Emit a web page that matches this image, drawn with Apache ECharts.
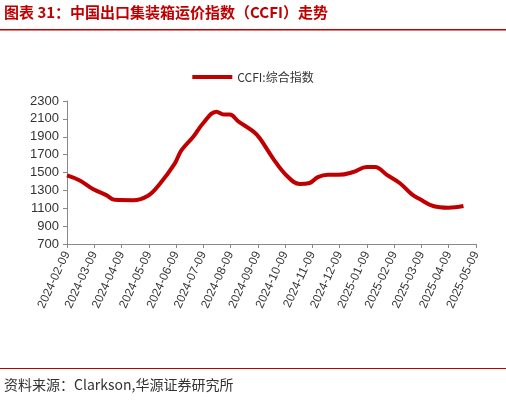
<!DOCTYPE html><html><head><meta charset="utf-8"><script src="https://cdn.jsdelivr.net/npm/echarts@6/dist/echarts.min.js"></script>
<style>body{margin:0}#c{width:506px;height:402px}</style></head><body><div id="c"></div><script>
const tickLabels=['2024-02-09','2024-03-09','2024-04-09','2024-05-09','2024-06-09','2024-07-09','2024-08-09','2024-09-09','2024-10-09','2024-11-09','2024-12-09','2025-01-09','2025-02-09','2025-03-09','2025-04-09','2025-05-09'];
const monthPos=[0,0.47,0.95,1.44,1.75,2.42,2.97,3.4,3.95,4.2,4.63,5.0,5.48,5.75,5.97,6.28,6.83,7.07,7.56,8.05,8.54,8.9,9.2,9.57,9.95,10.5,10.99,11.3,11.73,12.2,12.64,12.95,13.43,13.99,14.54];
const ccfi=[1467,1410,1315,1247,1194,1190,1240,1372,1600,1750,1900,2054,2180,2148,2148,2073,1960,1883,1656,1467,1372,1383,1448,1474,1474,1505,1561,1561,1474,1383,1258,1200,1125,1106,1125];
const c=echarts.init(document.getElementById('c'));
const F='"Noto Sans CJK SC",sans-serif';
c.setOption({
 graphic:[
  {type:'text',left:4,top:5,style:{text:'图表 31：中国出口集装箱运价指数（CCFI）走势',fill:'#c00000',font:'bold 15px '+F}},
  {type:'rect',shape:{x:0,y:29,width:506,height:1.5},style:{fill:'#c00000'}},
  {type:'rect',shape:{x:0,y:368,width:506,height:1},style:{fill:'#c00000'}},
  {type:'text',left:4,top:378,style:{text:'资料来源：Clarkson,华源证券研究所',fill:'#333',font:'14px '+F}}
 ],
 legend:{top:66,left:'center',itemWidth:40,itemHeight:4,icon:'rect',textStyle:{fontFamily:F,fontSize:12,color:'#333'},data:['CCFI:综合指数']},
 grid:{left:67,right:30,top:101,bottom:158},
 xAxis:{type:'value',min:0,max:15,interval:1,axisLine:{lineStyle:{color:'#888'}},axisTick:{show:true,length:4,lineStyle:{color:'#888'}},splitLine:{show:false},
  axisLabel:{rotate:65,color:'#333',fontSize:12,fontFamily:'Arial',formatter:v=>tickLabels[Math.round(v)]||''}},
 yAxis:{type:'value',min:700,max:2300,interval:200,axisLine:{show:true,lineStyle:{color:'#888'}},axisTick:{show:true,length:4,lineStyle:{color:'#888'}},splitLine:{show:false},axisLabel:{color:'#333',fontSize:13,fontFamily:'Arial',formatter:v=>String(v)}},
 series:[{name:'CCFI:综合指数',type:'line',smooth:0.4,showSymbol:false,lineStyle:{color:'#c00000',width:4},itemStyle:{color:'#c00000'},data:monthPos.map((x,i)=>[x,ccfi[i]])}]
});
</script></body></html>
